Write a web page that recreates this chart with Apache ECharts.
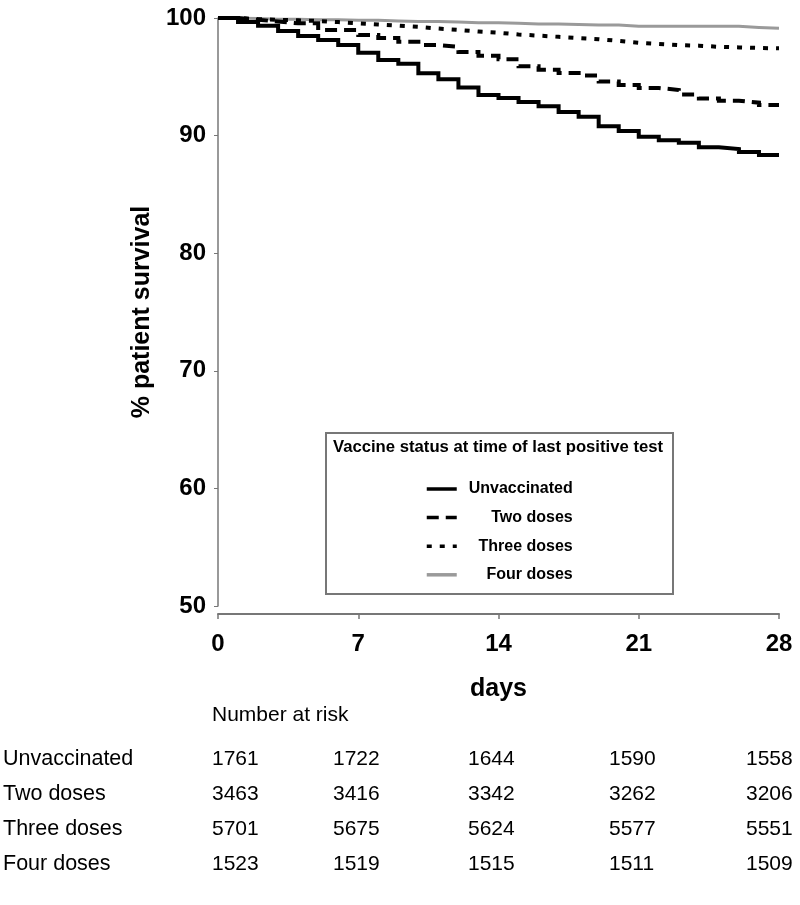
<!DOCTYPE html>
<html>
<head>
<meta charset="utf-8">
<script src="https://cdn.jsdelivr.net/npm/echarts@6/dist/echarts.min.js"></script>
<style>
html,body{margin:0;padding:0;background:#fff;}
#chart{width:800px;height:905px;}
</style>
</head>
<body>
<div id="chart"></div>
<script>
// ---- data ----
const days = [0,1,2,3,4,5,6,7,8,9,10,11,12,13,14,15,16,17,18,19,20,21,22,23,24,25,26,27,28];
const seriesNames = ['Unvaccinated','Two doses','Three doses','Four doses'];
const unvaccinated = [100,99.66,99.35,98.9,98.47,98.13,97.7,97.05,96.43,96.1,95.3,94.8,94.1,93.45,93.2,92.86,92.5,92.0,91.6,90.8,90.4,89.9,89.6,89.4,89.0,88.86,88.6,88.35,88.3];
const twoDoses = [100,99.85,99.7,99.55,99.55,98.98,98.98,98.55,98.3,97.98,97.7,97.56,97.1,96.8,96.5,95.9,95.6,95.32,95.1,94.6,94.3,94.05,93.88,93.5,93.15,92.97,92.8,92.6,92.6];
const threeDoses = [100,99.9,99.85,99.8,99.75,99.65,99.55,99.45,99.35,99.25,99.1,98.98,98.85,98.75,98.6,98.5,98.4,98.3,98.2,98.05,97.9,97.8,97.7,97.65,97.55,97.5,97.45,97.42,97.42];
const fourDoses = [100,99.95,99.9,99.9,99.85,99.85,99.8,99.8,99.75,99.7,99.7,99.65,99.6,99.6,99.55,99.5,99.5,99.45,99.4,99.4,99.3,99.3,99.3,99.3,99.3,99.3,99.2,99.12,99.12];
const xTicks = [0,7,14,21,28];
const yTicks = [50,60,70,80,90,100];
const atRiskTitle = 'Number at risk';
const atRisk = [
  [1761,1722,1644,1590,1558],
  [3463,3416,3342,3262,3206],
  [5701,5675,5624,5577,5551],
  [1523,1519,1515,1511,1509]
];
const legendTitle = 'Vaccine status at time of last positive test';

// ---- layout / style ----
const FONT = "'Liberation Sans', Arial, Helvetica, sans-serif";
const colLeft = [212, 333, 468, 609, 746];
const rowY = [759, 794, 829, 864];
const styles = [
  {color:'#000', width:4, type:'solid'},
  {color:'#000', width:4, type:[12,7]},
  {color:'#000', width:4, type:[5,8]},
  {color:'#9a9a9a', width:3, type:'solid'}
];
const values = [unvaccinated, twoDoses, threeDoses, fourDoses];

const series = seriesNames.map((name, i) => ({
  name: name,
  type: 'line',
  step: 'end',
  symbol: 'none',
  silent: true,
  z: 10 - i,
  lineStyle: {color: styles[i].color, width: styles[i].width, type: styles[i].type, cap: 'butt', join: 'miter'},
  itemStyle: {color: styles[i].color},
  data: days.map((d, k) => [d, values[i][k]])
}));

const graphics = [
  {type:'rect', shape:{x:326, y:433, width:347, height:161}, style:{fill:'#fff', stroke:'#777', lineWidth:2}, z:1},
  {type:'text', x:498, y:447, style:{text:legendTitle, font:'bold 16.7px ' + FONT, fill:'#000', textAlign:'center', textVerticalAlign:'middle'}, z:2},
  {type:'text', x:212, y:715, style:{text:atRiskTitle, font:'21px ' + FONT, fill:'#000', textAlign:'left', textVerticalAlign:'middle'}}
];
atRisk.forEach((row, r) => {
  graphics.push({type:'text', x:3, y:rowY[r], style:{text:seriesNames[r], font:'21.5px ' + FONT, fill:'#000', textAlign:'left', textVerticalAlign:'middle'}});
  row.forEach((v, c) => {
    graphics.push({type:'text', x:colLeft[c], y:rowY[r], style:{text:String(v), font:'21px ' + FONT, fill:'#000', textAlign:'left', textVerticalAlign:'middle'}});
  });
});

const chart = echarts.init(document.getElementById('chart'), null, {renderer:'canvas'});
chart.setOption({
  animation: false,
  backgroundColor: '#fff',
  textStyle: {fontFamily: FONT},
  grid: {left: 218, right: 21, top: 18, bottom: 299, containLabel: false},
  xAxis: {
    type: 'value', min: xTicks[0], max: xTicks[xTicks.length-1], interval: 7, offset: 8,
    name: 'days', nameLocation: 'middle', nameGap: 63,
    nameTextStyle: {fontSize: 25, fontWeight: 'bold', color: '#000', fontFamily: FONT},
    axisLine: {show: true, lineStyle: {color: '#777', width: 2}},
    axisTick: {show: true, length: 5, lineStyle: {color: '#777', width: 1.5}},
    axisLabel: {fontSize: 24, fontWeight: 'bold', color: '#000', margin: 18, fontFamily: FONT},
    splitLine: {show: false}
  },
  yAxis: {
    type: 'value', min: yTicks[0], max: yTicks[yTicks.length-1], interval: 10, offset: 2,
    name: '% patient survival', nameLocation: 'middle', nameGap: 58, nameRotate: 90,
    nameTextStyle: {fontSize: 25, fontWeight: 'bold', color: '#000', fontFamily: FONT},
    axisLine: {show: true, lineStyle: {color: '#777', width: 1.5}},
    axisTick: {show: true, length: 4, lineStyle: {color: '#777', width: 1}},
    axisLabel: {fontSize: 24, fontWeight: 'bold', color: '#000', margin: 10, fontFamily: FONT},
    splitLine: {show: false}
  },
  legend: {
    show: true, orient: 'vertical', left: 425, top: 481, padding: 0,
    itemWidth: 30, itemHeight: 14, itemGap: 12.6, selectedMode: false,
    itemStyle: {opacity: 0},
    lineStyle: {width: 3.5},
    data: seriesNames,
    formatter: name => '{t|' + name + '}',
    textStyle: {
      rich: {t: {width: 111, lineHeight: 14, align: 'right', fontSize: 16, fontWeight: 'bold', color: '#000', fontFamily: FONT}}
    }
  },
  graphic: graphics,
  series: series
});
</script>
</body>
</html>
